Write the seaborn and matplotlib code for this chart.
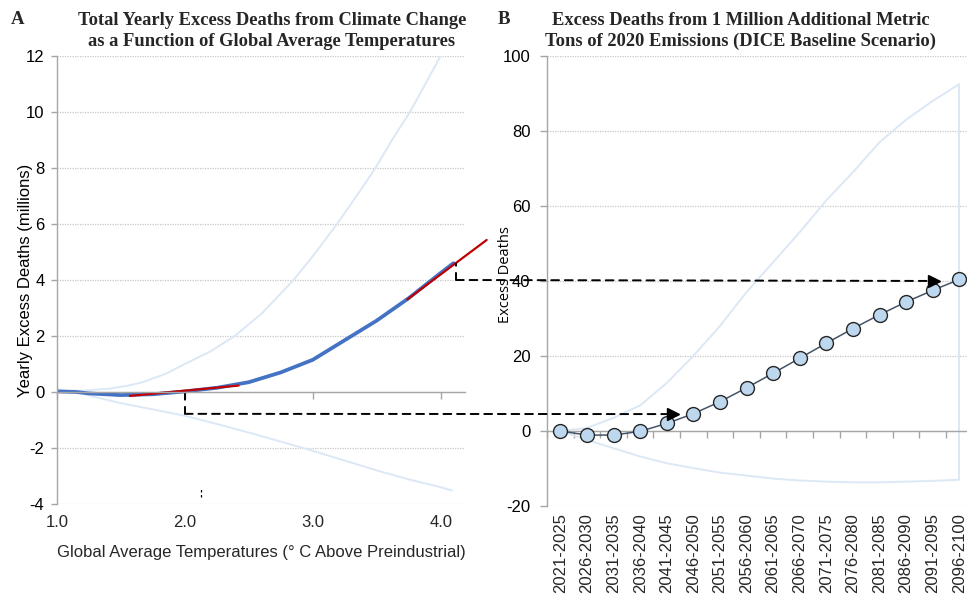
import matplotlib
matplotlib.use("Agg")
import matplotlib.pyplot as plt
from matplotlib.patches import ConnectionPatch
import seaborn as sns
import numpy as np
import pandas as pd

# ---- panel A: yearly excess deaths (millions) vs temperature ----
temp_mid = [1.0, 1.15, 1.25, 1.5, 1.75, 2.0, 2.25, 2.5, 2.75, 3.0, 3.25, 3.5, 3.75, 4.0, 4.1]
deaths_mid = [0.02, 0.0, -0.05, -0.11, -0.08, 0.02, 0.15, 0.35, 0.7, 1.15, 1.85, 2.55, 3.35, 4.25, 4.6]
temp_hi = [1.0, 1.2, 1.41, 1.55, 1.67, 1.85, 2.0, 2.2, 2.39, 2.6, 2.85, 3.0, 3.19, 3.35, 3.49, 3.62, 3.76, 3.88, 4.0, 4.1]
deaths_hi = [0.05, 0.05, 0.12, 0.22, 0.35, 0.65, 1.0, 1.45, 2.0, 2.8, 4.0, 4.85, 6.0, 7.05, 8.0, 9.0, 10.0, 11.0, 12.0, 13.0]
temp_lo = [1.0, 1.15, 1.3, 1.5, 1.75, 2.0, 2.25, 2.5, 2.75, 3.0, 3.25, 3.5, 3.75, 4.0, 4.09]
deaths_lo = [0.1, 0.0, -0.18, -0.4, -0.62, -0.85, -1.14, -1.45, -1.77, -2.1, -2.45, -2.8, -3.12, -3.4, -3.52]
tan_low_t = [1.57, 2.42]
tan_low_v = [-0.14, 0.23]
tan_high_t = [3.74, 4.36]
tan_high_v = [3.31, 5.43]

# ---- panel B: excess deaths from 1 Mt of 2020 emissions ----
periods = ["2021-2025", "2026-2030", "2031-2035", "2036-2040", "2041-2045", "2046-2050",
           "2051-2055", "2056-2060", "2061-2065", "2066-2070", "2071-2075", "2076-2080",
           "2081-2085", "2086-2090", "2091-2095", "2096-2100"]
excess = [0, -1.1, -1.1, -0.1, 2.0, 4.6, 7.8, 11.5, 15.4, 19.4, 23.4, 27.3, 31.0, 34.4, 37.5, 40.4]
band_hi = [0, 0.8, 3.5, 6.8, 12.8, 20, 28, 37, 45, 53, 61.5, 69, 77, 83, 88, 92.5]
band_lo = [0, -2.4, -4.6, -6.8, -8.6, -9.9, -11.1, -11.9, -12.7, -13.2, -13.5, -13.7, -13.7, -13.5, -13.3, -13.0]

# dashed links A -> B  (temperature, millions) -> (period index, deaths)
link_low_a = (2.0, 0.02, -0.78)
link_low_b = (4.25, 4.5)
link_high_a = (4.12, 4.6, 4.0)
link_high_b = (14.05, 40.0)
stray_tick = (2.13, -3.43, -3.75)

GREY = "#a6a6a6"
GRID = "#c8c8c8"
BAND = "#dce8f6"
BLUE = "#4472c4"
RED = "#c00000"

sns.set_theme(style="white")
plt.rcParams["font.family"] = ["Liberation Sans", "DejaVu Sans"]
plt.rcParams["axes.unicode_minus"] = False

fig = plt.figure(figsize=(9.67, 5.99), dpi=100)
ax1 = fig.add_axes([0.0589, 0.1586, 0.4219, 0.7479])
ax2 = fig.add_axes([0.5657, 0.1553, 0.4401, 0.7513])

def excel_style(ax, yticks):
    ax.set_yticks(yticks)
    ax.yaxis.grid(True, color=GRID, linestyle=(0, (1, 1)), linewidth=0.9)
    ax.xaxis.grid(False)
    for s in ["top", "right"]:
        ax.spines[s].set_visible(False)
    ax.spines["left"].set_color(GREY)
    ax.spines["left"].set_linewidth(1.0)
    ax.spines["bottom"].set_position(("data", 0))
    ax.spines["bottom"].set_color(GREY)
    ax.spines["bottom"].set_linewidth(1.0)
    ax.tick_params(axis="y", left=True, length=4, width=1, color=GREY,
                   labelsize=12, pad=5, labelcolor="black")
    ax.tick_params(axis="x", bottom=True, which="both", direction="out", length=5,
                   width=1, color=GREY, labelbottom=False)

# panel A
sns.lineplot(x=temp_hi, y=deaths_hi, ax=ax1, color=BAND, linewidth=1.4, sort=False)
sns.lineplot(x=temp_lo, y=deaths_lo, ax=ax1, color=BAND, linewidth=1.4, sort=False)
sns.lineplot(x=temp_mid, y=deaths_mid, ax=ax1, color=BLUE, linewidth=2.7, sort=False)
sns.lineplot(x=tan_low_t, y=tan_low_v, ax=ax1, color=RED, linewidth=1.6, sort=False)
sns.lineplot(x=tan_high_t, y=tan_high_v, ax=ax1, color=RED, linewidth=1.6, sort=False)
ax1.lines[-1].set_clip_on(False)
ax1.set_xlim(1.0, 4.19)
ax1.set_ylim(-4, 12)
excel_style(ax1, np.arange(-4, 13, 2))
xt = [1.0, 2.0, 3.0, 4.0]
ax1.set_xticks(xt)
ax1.set_xlabel("")
ax1.set_ylabel("Yearly Excess Deaths (millions)", fontsize=12, color="black")
ax1.yaxis.set_label_coords(-0.058, 0.5)
sec1 = ax1.secondary_xaxis("bottom")
sec1.set_xticks(xt, [f"{t:.1f}" for t in xt])
sec1.spines["bottom"].set_visible(False)
sec1.tick_params(length=0, labelsize=12, pad=8)
sec1.set_xlabel("Global Average Temperatures (° C Above Preindustrial)", fontsize=12, labelpad=11)

dash = (0, (4, 3))
ax1.vlines(link_low_a[0], link_low_a[2], link_low_a[1], colors="black", linestyles=dash, linewidth=1.4)
ax1.vlines(link_high_a[0], link_high_a[2], link_high_a[1], colors="black", linestyles=dash,
           linewidth=1.4, clip_on=False)
ax1.vlines(stray_tick[0], stray_tick[2], stray_tick[1], colors="black", linestyles=(0, (2, 2)),
           linewidth=0.9)

# panel B
pos = np.arange(len(periods))
df_b = pd.DataFrame({"pos": pos, "excess": excess, "hi": band_hi, "lo": band_lo})
sns.lineplot(data=df_b, x="pos", y="hi", ax=ax2, color=BAND, linewidth=1.4)
sns.lineplot(data=df_b, x="pos", y="lo", ax=ax2, color=BAND, linewidth=1.4)
ax2.vlines(pos[-1], band_lo[-1], band_hi[-1], colors=BAND, linewidth=1.4)
sns.lineplot(data=df_b, x="pos", y="excess", ax=ax2, color="#44546a", linewidth=1.1,
             marker="o", markersize=10, markerfacecolor="#bdd7ee",
             markeredgecolor="#262626", markeredgewidth=1.0, zorder=5)
ax2.set_xlim(-0.5, len(periods) - 0.5)
ax2.set_ylim(-20, 100)
excel_style(ax2, np.arange(-20, 101, 20))
ax2.tick_params(axis="y", length=5, pad=7)
ax2.set_xticks(pos)
ax2.set_xticks(np.append(pos - 0.5, pos[-1] + 0.5), minor=True)
ax2.tick_params(axis="x", which="major", length=0)
ax2.set_xlabel("")
ax2.set_ylabel("Excess Deaths", fontsize=10.5, family=["Open Sans", "DejaVu Sans"], color="black")
ax2.yaxis.set_label_coords(-0.081, 0.515)
sec2 = ax2.secondary_xaxis("bottom")
sec2.set_xticks(pos, periods)
sec2.spines["bottom"].set_visible(False)
sec2.tick_params(length=0, labelsize=12, pad=5, labelrotation=90)

# dashed arrows crossing the panels
for a, b in [((link_low_a[0], link_low_a[2]), link_low_b),
             ((link_high_a[0], link_high_a[2]), link_high_b)]:
    con = ConnectionPatch(xyA=a, coordsA=ax1.transData, xyB=b, coordsB=ax2.transData,
                          color="black", linestyle=dash, linewidth=1.4, zorder=6)
    fig.add_artist(con)
    ax2.plot([b[0]], [b[1]], marker=">", color="black", markersize=8, zorder=7, clip_on=False)

# titles
serif = ["Liberation Serif", "DejaVu Serif"]
fig.text(0.018, 0.968, "A", fontsize=13.5, fontweight="bold", family=serif, ha="center", va="center")
fig.text(0.521, 0.968, "B", fontsize=13.5, fontweight="bold", family=serif, ha="center", va="center")
fig.text(0.281, 0.948, "Total Yearly Excess Deaths from Climate Change\nas a Function of Global Average Temperatures",
         fontsize=13.3, fontweight="bold", family=serif, ha="center", va="center", linespacing=1.3)
fig.text(0.766, 0.948, "Excess Deaths from 1 Million Additional Metric\nTons of 2020 Emissions (DICE Baseline Scenario)",
         fontsize=13.3, fontweight="bold", family=serif, ha="center", va="center", linespacing=1.3)

fig.savefig("out.png", dpi=100)
